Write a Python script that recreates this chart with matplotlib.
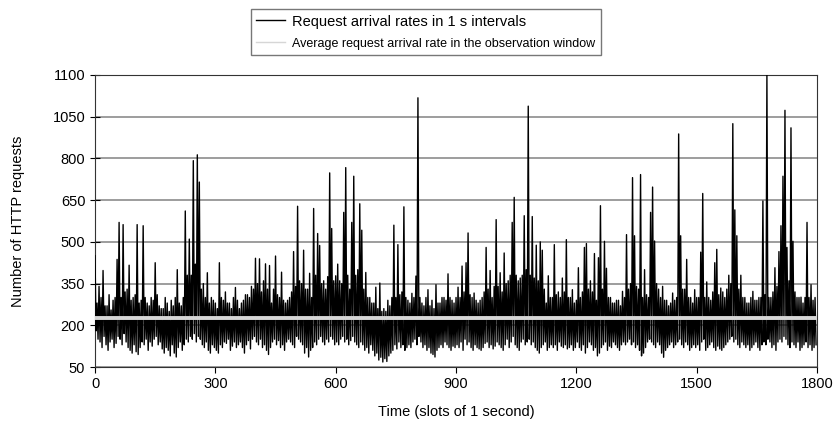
import numpy as np
import matplotlib.pyplot as plt

plt.rcParams['font.family'] = ['Liberation Sans', 'DejaVu Sans']

# upper and lower edge of the request count in each 5 s slot (one row = 60 s),
# read off the chart; the spikes sit in the upper edge
high_rows = [
    [450, 280, 340, 300, 397, 270, 270, 310, 255, 290, 300, 437],
    [570, 300, 562, 320, 330, 416, 290, 300, 310, 562, 280, 290],
    [558, 300, 280, 270, 300, 290, 425, 310, 270, 260, 260, 300],
    [280, 250, 290, 270, 300, 400, 280, 270, 300, 611, 380, 510],
    [380, 792, 420, 813, 715, 330, 350, 300, 389, 280, 300, 290],
    [280, 260, 425, 300, 290, 320, 280, 280, 260, 300, 336, 290],
    [260, 280, 290, 310, 310, 300, 340, 330, 441, 350, 439, 320],
    [360, 421, 330, 415, 280, 330, 449, 310, 300, 391, 290, 280],
    [290, 300, 320, 465, 340, 628, 360, 350, 470, 330, 330, 387],
    [300, 620, 380, 530, 487, 350, 360, 330, 375, 748, 548, 360],
    [378, 420, 360, 350, 606, 767, 380, 330, 570, 736, 380, 400],
    [637, 542, 330, 390, 300, 300, 280, 280, 337, 260, 352, 250],
    [260, 250, 290, 270, 300, 560, 300, 490, 310, 320, 626, 300],
    [290, 280, 315, 300, 377, 1018, 300, 280, 270, 300, 328, 270],
    [290, 260, 346, 280, 280, 300, 300, 290, 385, 300, 290, 280],
    [300, 337, 300, 413, 320, 425, 532, 310, 300, 316, 290, 280],
    [290, 300, 320, 480, 330, 397, 300, 340, 580, 340, 389, 320],
    [460, 350, 360, 380, 570, 660, 380, 360, 370, 380, 594, 400],
    [988, 380, 591, 370, 488, 360, 500, 470, 330, 280, 378, 300],
    [300, 490, 310, 320, 300, 370, 320, 508, 300, 300, 328, 280],
    [290, 407, 300, 320, 480, 494, 330, 360, 320, 458, 290, 443],
    [630, 330, 502, 405, 300, 300, 280, 280, 290, 290, 270, 322],
    [300, 526, 330, 350, 731, 522, 340, 330, 742, 300, 400, 310],
    [300, 606, 697, 503, 350, 330, 300, 340, 290, 290, 270, 280],
    [316, 290, 300, 888, 522, 330, 330, 437, 300, 300, 280, 328],
    [300, 300, 463, 674, 300, 356, 300, 290, 320, 425, 473, 310],
    [334, 320, 300, 330, 380, 350, 925, 615, 522, 330, 380, 300],
    [300, 280, 280, 300, 322, 290, 290, 300, 300, 647, 310, 1100],
    [300, 300, 320, 407, 340, 465, 558, 736, 973, 480, 360, 910],
    [502, 320, 300, 300, 301, 280, 300, 570, 300, 346, 290, 300],
]
low_rows = [
    [180, 150, 140, 120, 160, 130, 110, 140, 150, 120, 135, 160],
    [150, 130, 170, 140, 120, 110, 100, 130, 105, 95, 120, 140],
    [130, 150, 110, 140, 125, 150, 160, 130, 140, 115, 100, 120],
    [110, 90, 130, 100, 86, 120, 140, 110, 130, 150, 140, 160],
    [150, 170, 140, 160, 150, 130, 120, 140, 110, 100, 130, 120],
    [110, 100, 130, 120, 140, 135, 150, 110, 125, 140, 120, 130],
    [140, 120, 100, 130, 145, 115, 150, 160, 140, 130, 150, 120],
    [130, 110, 95, 120, 140, 150, 130, 145, 120, 130, 110, 140],
    [150, 140, 130, 120, 160, 150, 140, 130, 100, 120, 86, 110],
    [120, 140, 130, 150, 160, 140, 130, 150, 140, 160, 150, 130],
    [140, 130, 150, 160, 140, 150, 130, 145, 160, 140, 130, 120],
    [140, 130, 110, 120, 100, 130, 110, 90, 100, 75, 85, 68],
    [80, 70, 90, 100, 110, 130, 115, 140, 120, 130, 110, 120],
    [130, 120, 140, 150, 130, 160, 140, 120, 130, 110, 120, 100],
    [95, 86, 110, 120, 130, 120, 140, 130, 120, 110, 125, 120],
    [130, 120, 140, 110, 150, 130, 140, 120, 110, 130, 120, 115],
    [110, 120, 135, 140, 120, 130, 115, 125, 140, 130, 120, 110],
    [130, 150, 120, 140, 160, 130, 120, 110, 140, 150, 130, 140],
    [150, 130, 140, 120, 110, 100, 120, 130, 140, 110, 120, 130],
    [120, 130, 110, 140, 125, 120, 130, 115, 120, 130, 110, 120],
    [140, 120, 110, 130, 100, 120, 140, 130, 110, 120, 90, 100],
    [120, 130, 140, 110, 125, 120, 140, 130, 120, 110, 130, 140],
    [130, 140, 150, 130, 140, 120, 130, 110, 90, 100, 120, 140],
    [150, 140, 130, 120, 140, 130, 100, 85, 110, 120, 130, 140],
    [120, 130, 140, 150, 130, 120, 140, 130, 110, 120, 130, 120],
    [130, 110, 140, 150, 110, 120, 130, 140, 120, 110, 125, 115],
    [110, 120, 130, 140, 150, 160, 140, 150, 130, 120, 140, 130],
    [120, 130, 110, 120, 130, 140, 120, 110, 130, 140, 130, 150],
    [140, 120, 130, 110, 140, 150, 140, 160, 150, 130, 120, 140],
    [130, 120, 140, 110, 120, 130, 140, 120, 130, 110, 120, 130],
]
slot_len = 5
avg_rate = 225

yticks = [50, 200, 350, 500, 650, 800, 950, 1100]
ytick_labels = ["50", "200", "350", "500", "650", "800", "1050", "1100"]
xticks = [0, 300, 600, 900, 1200, 1500, 1800]

high = np.array(high_rows).ravel()
low = np.array(low_rows).ravel()
slot_t = np.arange(len(high)) * slot_len

# series goes high -> low inside every slot
t = np.column_stack([slot_t, slot_t + slot_len / 2]).ravel()
rates = np.column_stack([high, low]).ravel()

fig = plt.figure(figsize=(8.38, 4.33), dpi=100)
ax = fig.add_axes([0.1134, 0.1524, 0.8616, 0.6744])

ax.plot(t, rates, color="black", lw=1.0,
        label="Request arrival rates in 1 s intervals", zorder=3)
ax.plot([0, 1800], [avg_rate, avg_rate], color="#d6d6d6", lw=2.8,
        label="Average request arrival rate in the observation window", zorder=4)

ax.set_xlim(0, 1800)
ax.set_ylim(50, 1100)
ax.set_yticks(yticks)
ax.set_yticklabels(ytick_labels)
ax.set_xticks(xticks)
ax.yaxis.grid(True, color="#8c8c8c", lw=1.2)
ax.set_axisbelow(True)
ax.tick_params(labelsize=10.5, direction="out", length=4, colors="black")
ax.tick_params(axis="y", direction="inout", length=7)
for s in ax.spines.values():
    s.set_color("#333333")

ax.set_xlabel("Time (slots of 1 second)", fontsize=10.5, labelpad=10)
ax.set_ylabel("Number of HTTP requests", fontsize=10.5, labelpad=20)

h, l = ax.get_legend_handles_labels()
leg = fig.legend(h, l, loc="upper center", bbox_to_anchor=(0.508, 0.995), fontsize=10.5,
                 frameon=True, fancybox=False, edgecolor="#555555",
                 handlelength=2.0, handletextpad=0.5, borderpad=0.35, labelspacing=0.55)
leg.get_frame().set_linewidth(1.0)
leg.get_lines()[1].set_linewidth(1.0)
leg.get_texts()[1].set_fontsize(9.0)

fig.savefig("out.png", dpi=100)
